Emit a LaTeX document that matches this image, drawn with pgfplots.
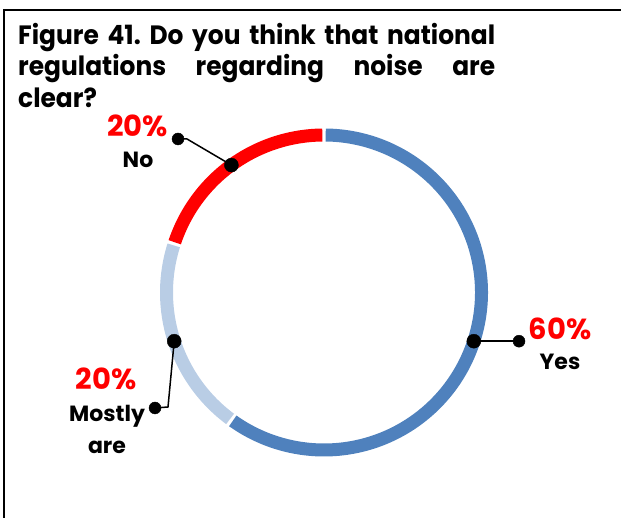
\documentclass[border=0pt]{standalone}
\usepackage{fontspec}
\setmainfont{Poppins}
\newfontfamily\titlefont{Poppins}[FakeStretch=0.94]
\usepackage{pgfplots}
\usepackage{pgfplotstable}
\pgfplotsset{compat=1.18}
\definecolor{cYes}{HTML}{4F81BD}
\definecolor{cMost}{HTML}{B9CDE5}
\definecolor{cNo}{HTML}{FF0000}

\pgfplotstableread{
label value
Yes 60
Mostly 20
No 20
}\piedata

\newcommand\ttl{\titlefont\fontsize{26.5bp}{30bp}\selectfont\bfseries\frenchspacing}
\newcommand\pct{\fontsize{29bp}{29bp}\selectfont\bfseries\color{cNo}}
\newcommand\cat{\fontsize{22bp}{22bp}\selectfont\bfseries}

\begin{document}
\begin{tikzpicture}[x=1bp,y=1bp]
\useasboundingbox (0,0) rectangle (621,518);
\draw[line width=2bp] (4.3,0) -- (4.3,507.7) -- (621,507.7);
\pgfplotstablegetelem{0}{value}\of\piedata \let\vA\pgfplotsretval
\pgfplotstablegetelem{1}{value}\of\piedata \let\vB\pgfplotsretval
\pgfplotstablegetelem{2}{value}\of\piedata \let\vC\pgfplotsretval
\pgfmathsetmacro\tot{\vA+\vB+\vC}
\pgfmathsetmacro\aZero{90}
\pgfmathsetmacro\aOne{90-3.6*(\vA/\tot*100)}
\pgfmathsetmacro\aTwo{\aOne-3.6*(\vB/\tot*100)}
\pgfmathsetmacro\aThree{\aTwo-3.6*(\vC/\tot*100)}
\pgfmathsetmacro\sA{\aOne+0.6}\pgfmathsetmacro\eA{\aZero-0.6}
\pgfmathsetmacro\sB{\aTwo+0.6}\pgfmathsetmacro\eB{\aOne-0.6}
\pgfmathsetmacro\sC{\aThree+0.6}\pgfmathsetmacro\eC{\aTwo-0.6}
\begin{axis}[at={(0,0)}, anchor=south west, scale only axis, width=621bp, height=518bp,
  xmin=0, xmax=621, ymin=0, ymax=518, hide axis, clip=false]
\addplot[cYes, line width=13bp, domain=\sA:\eA, samples=120, smooth] ({324+157.5*cos(x)},{225.5+157.5*sin(x)});
\addplot[cMost, line width=13bp, domain=\sB:\eB, samples=50, smooth] ({324+157.5*cos(x)},{225.5+157.5*sin(x)});
\addplot[cNo, line width=13bp, domain=\sC:\eC, samples=50, smooth] ({324+157.5*cos(x)},{225.5+157.5*sin(x)});
% leader lines
\addplot[black, line width=1.5bp] coordinates {(178,379) (187,379) (231.4,352.9)};
\addplot[black, line width=1.5bp] coordinates {(473.8,176.8) (519,176.8)};
\addplot[black, line width=1.5bp] coordinates {(174.2,176.8) (168,111) (155,110)};
\addplot[black, only marks, mark=*, mark size=7bp] coordinates {(231.4,352.9) (473.8,176.8) (174.2,176.8)};
\addplot[black, only marks, mark=*, mark size=6bp] coordinates {(178,379) (519,176.8) (155,110)};
% labels
\node[anchor=base, inner sep=0] at (axis cs:137.5,381) {\pct 20\%};
\node[anchor=base, inner sep=0] at (axis cs:138,350) {\cat No};
\node[anchor=base, inner sep=0] at (axis cs:560,178) {\pct 60\%};
\node[anchor=base, inner sep=0] at (axis cs:560,148) {\cat Yes};
\node[anchor=base, inner sep=0] at (axis cs:106,128) {\pct 20\%};
\node[anchor=base, inner sep=0] at (axis cs:107,96) {\cat Mostly};
\node[anchor=base, inner sep=0] at (axis cs:107,64) {\cat are};
\end{axis}
\node[anchor=base west, inner sep=0] at (18,473) {\ttl\makebox[477bp][s]{Figure 41. Do you think that national}};
\node[anchor=base west, inner sep=0] at (18,442) {\ttl\makebox[477bp][s]{regulations regarding noise are}};
\node[anchor=base west, inner sep=0] at (18,410) {\ttl clear?};
\end{tikzpicture}
\end{document}
